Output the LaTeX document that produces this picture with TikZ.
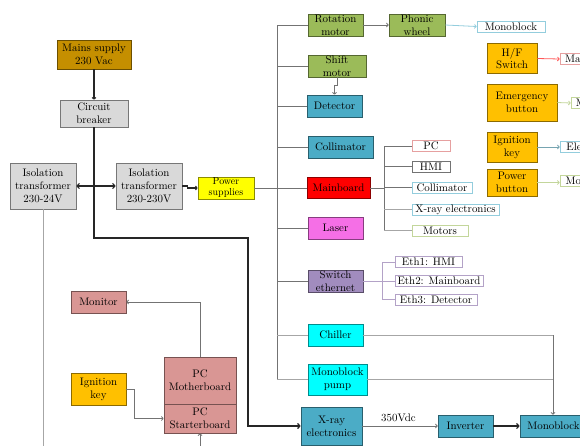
\documentclass[tikz,border=0pt]{standalone}
\usetikzlibrary{arrows.meta}
\definecolor{cMains}{HTML}{C58F00}
\definecolor{cGrey}{HTML}{D9D9D9}
\definecolor{cYellow}{HTML}{FFFF00}
\definecolor{cGreen}{HTML}{9BBB59}
\definecolor{cBlue}{HTML}{4BACC6}
\definecolor{cRed}{HTML}{FF0000}
\definecolor{cLaser}{HTML}{F56FE6}
\definecolor{cPurple}{HTML}{A18CBE}
\definecolor{cCyan}{HTML}{00FFFF}
\definecolor{cOrange}{HTML}{FFC000}
\definecolor{cPink}{HTML}{D99694}
\definecolor{eRed}{HTML}{E6A0A0}
\definecolor{eBlue}{HTML}{93CDDD}
\definecolor{eGreen}{HTML}{C3D69B}
\definecolor{ePurple}{HTML}{B3A2C7}
\tikzset{
  base/.style={draw=#1!55!black, fill=#1, line width=0.8pt, inner sep=0pt, rectangle},
  tagbox/.style={draw=#1, fill=white, line width=0.8pt, inner sep=0pt, rectangle},
  lbl/.style={font=\fontsize{10.9}{12.8}\selectfont, align=center, inner sep=0pt},
  wire/.style={draw=black!55, line width=0.8pt},
  lightwire/.style={draw=black!35, line width=0.9pt},
  heavy/.style={draw=black!85, line width=1.1pt},
  tip/.style={-{To[length=2.5pt,width=4.5pt]}},
  bigtip/.style={-{To[length=3.5pt,width=6pt]}}
}
% \blk{name}{cx}{cy}{width}{height}{box style}{text}
\newcommand\blk[7]{%
  \node[#6, minimum width=#4pt, minimum height=#5pt] (#1) at (#2,#3) {};
  \node[lbl] (#1-t) at (#1.center) {#7};}
\begin{document}
\begin{tikzpicture}[x=1pt,y=-1pt]
\useasboundingbox (0,0) rectangle (580,445);
\clip (0,0) rectangle (580,445);
\fill[white] (0,0) rectangle (580,445);

% supply chain
\blk{mains}{94}{54.5}{74}{29}{base=cMains}{Mains supply\\230 Vac}
\blk{breaker}{94}{113.5}{68}{27}{base=cGrey}{Circuit\\breaker}
\blk{iso24}{43}{186}{66}{46}{base=cGrey}{Isolation\\transformer\\230-24V}
\blk{iso230}{149}{186}{66}{46}{base=cGrey}{Isolation\\transformer\\230-230V}
\node[base=cYellow, minimum width=56pt, minimum height=22pt] (power) at (226,188) {};
\node[lbl, font=\fontsize{10}{11}\selectfont] (power-t) at (power.center) {Power\\supplies};

% units on the main bus
\blk{rot}{335.5}{25}{55}{22}{base=cGreen}{Rotation\\motor}
\blk{phonic}{417}{25}{56}{22}{base=cGreen}{Phonic\\wheel}
\blk{shift}{337}{66}{58}{22}{base=cGreen}{Shift\\motor}
\blk{det}{334.5}{106}{55}{22}{base=cBlue}{Detector}
\blk{colli}{340.5}{147}{65}{22}{base=cBlue}{Collimator}
\blk{mainb}{338.5}{188}{63}{21}{base=cRed}{Mainboard}
\blk{laser}{335.5}{228}{55}{22}{base=cLaser}{Laser}
\blk{sweth}{335.5}{281}{55}{22}{base=cPurple}{Switch\\ethernet}
\blk{chiller}{335.5}{335}{55}{22}{base=cCyan}{Chiller}
\blk{pump}{337.5}{379.5}{59}{31}{base=cCyan}{Monoblock\\pump}
\blk{xray}{331.5}{426}{61}{38}{base=cBlue}{X-ray\\electronics}
\blk{inv}{465.5}{426}{55}{22}{base=cBlue}{Inverter}
\blk{mono}{553.5}{426}{67}{22}{base=cBlue}{Monoblock}

% phonic wheel target
\blk{monotag}{511}{26.5}{68}{11}{tagbox=eBlue}{Monoblock}

% mainboard outputs
\blk{pc}{431}{146}{38}{11}{tagbox=eRed}{PC}
\blk{hmi}{431}{166.5}{38}{11}{tagbox=black!55}{HMI}
\blk{colli2}{442}{187.5}{60}{11}{tagbox=eBlue}{Collimator}
\blk{xray2}{455.5}{209.5}{87}{11}{tagbox=eBlue}{X-ray electronics}
\blk{motors}{440}{230.5}{56}{11}{tagbox=eGreen}{Motors}

% ethernet ports
\blk{eth1}{428.5}{262}{67}{11}{tagbox=ePurple}{Eth1: HMI}
\blk{eth2}{439}{281}{88}{11}{tagbox=ePurple}{Eth2: Mainboard}
\blk{eth3}{436}{299.5}{82}{11}{tagbox=ePurple}{Eth3: Detector}

% operator controls
\blk{hf}{512}{58.5}{50}{30}{base=cOrange}{H/F\\Switch}
\blk{emerg}{522}{102.5}{70}{37}{base=cOrange}{Emergency\\button}
\blk{ignr}{512}{147}{50}{30}{base=cOrange}{Ignition\\key}
\blk{pwrbtn}{512}{182.5}{50}{27}{base=cOrange}{Power\\button}
\blk{hfout}{591}{59}{62}{11}{tagbox=eRed}{Mainboard}
\blk{emout}{605}{103}{68}{11}{tagbox=eGreen}{Main switch}
\blk{ignout}{592.5}{147}{65}{11}{tagbox=eBlue}{Electronics}
\blk{pwrout}{582.5}{181}{45}{11}{tagbox=eGreen}{Motors}

% PC section
\blk{monitor}{98.5}{302}{55}{22}{base=cPink}{Monitor}
\blk{ignl}{98.5}{389}{55}{32}{base=cOrange}{Ignition\\key}
\blk{pcmb}{200}{380.5}{72}{47}{base=cPink}{PC\\Motherboard}
\blk{pcsb}{200}{418.5}{72}{29}{base=cPink}{PC\\Starterboard}

% ---- connectors ----
\draw[heavy, tip] (mains.south) -- (breaker.north);
\draw[heavy, {To[length=3.5pt,width=6pt]}-{To[length=3.5pt,width=6pt]}] (iso24.east) -- (iso230.east -| iso230.west);
\draw[heavy, tip] (iso230.east) -- ++(5,0) |- (power.west);
\coordinate (r1) at (94,238);
\coordinate (r2) at (248,238);
\draw[heavy, line width=1.3pt, bigtip] (breaker.south) -- (r1) -- (r2) |- (xray.west);

% main bus
\coordinate (bustop) at (277,25);
\coordinate (busbot) at (277,379.5);
\draw[wire] (bustop) -- (busbot);
\draw[wire] (power.east) -- (mainb.west);
\foreach \n in {rot,shift,det,colli,laser,sweth}
  \draw[wire] (\n.west -| bustop) -- (\n.west);
\draw[lightwire] (chiller.west -| bustop) -- (chiller.west);
\draw[lightwire] (pump.west -| bustop) -- (pump.west);

\draw[wire, tip] (rot.east) -- (phonic.west);
\draw[draw=eBlue, line width=0.8pt, tip] (phonic.east) -- (monotag.west);
\draw[wire, tip] (shift.south) -- ++(0,8) -| (det.north);

% mainboard fan-out
\coordinate (mbus) at (384,188);
\draw[wire] (mainb.east) -- (mbus);
\draw[wire] (mbus |- pc.west) -- (mbus |- motors.west);
\foreach \n in {pc,hmi,colli2}
  \draw[wire] (mbus |- \n.west) -- (\n.west);
\foreach \n in {xray2,motors}
  \draw[lightwire] (mbus |- \n.west) -- (\n.west);

% ethernet fan-out
\coordinate (ebus) at (382,281);
\draw[draw=ePurple, line width=0.8pt] (sweth.east) -- (ebus);
\draw[draw=ePurple, line width=0.8pt] (ebus |- eth1.west) -- (ebus |- eth3.west);
\foreach \n in {eth1,eth2,eth3}
  \draw[draw=ePurple, line width=0.8pt] (ebus |- \n.west) -- (\n.west);

% cooling to monoblock
\coordinate (c1) at (553,335);
\draw[lightwire] (chiller.east) -- (c1);
\draw[lightwire] (pump.east) -- (pump.east -| c1);
\draw[wire, tip] (c1) -- (c1 |- mono.north);

% high voltage chain
\draw[wire, tip] (xray.east) -- node[lbl, above=4pt, pos=0.48] (vdc) {350Vdc} (inv.west);
\draw[heavy, line width=1.2pt, bigtip] (inv.east) -- (mono.west);

% operator control outputs
\draw[draw=red!65, line width=0.8pt, tip] (hf.east) -- (hfout.west);
\draw[draw=eGreen, line width=0.8pt, tip] (emerg.east) -- (emout.west);
\draw[draw=eBlue!80!black, line width=0.8pt, tip] (ignr.east) -- (ignout.west);
\draw[draw=eGreen, line width=0.8pt, tip] (pwrbtn.east) -- (pwrbtn.east -| pwrout.west);

% PC connections
\draw[wire, tip] (pcmb.north) |- (monitor.east);
\coordinate (k1) at (134,389);
\draw[wire, tip] (ignl.east) -- (k1) |- (pcsb.west);
\coordinate (sbin) at (200,450);
\draw[wire, tip] (sbin) -- (pcsb.south);
\coordinate (i24out) at (43,450);
\draw[lightwire] (iso24.south) -- (i24out);
\end{tikzpicture}
\end{document}
